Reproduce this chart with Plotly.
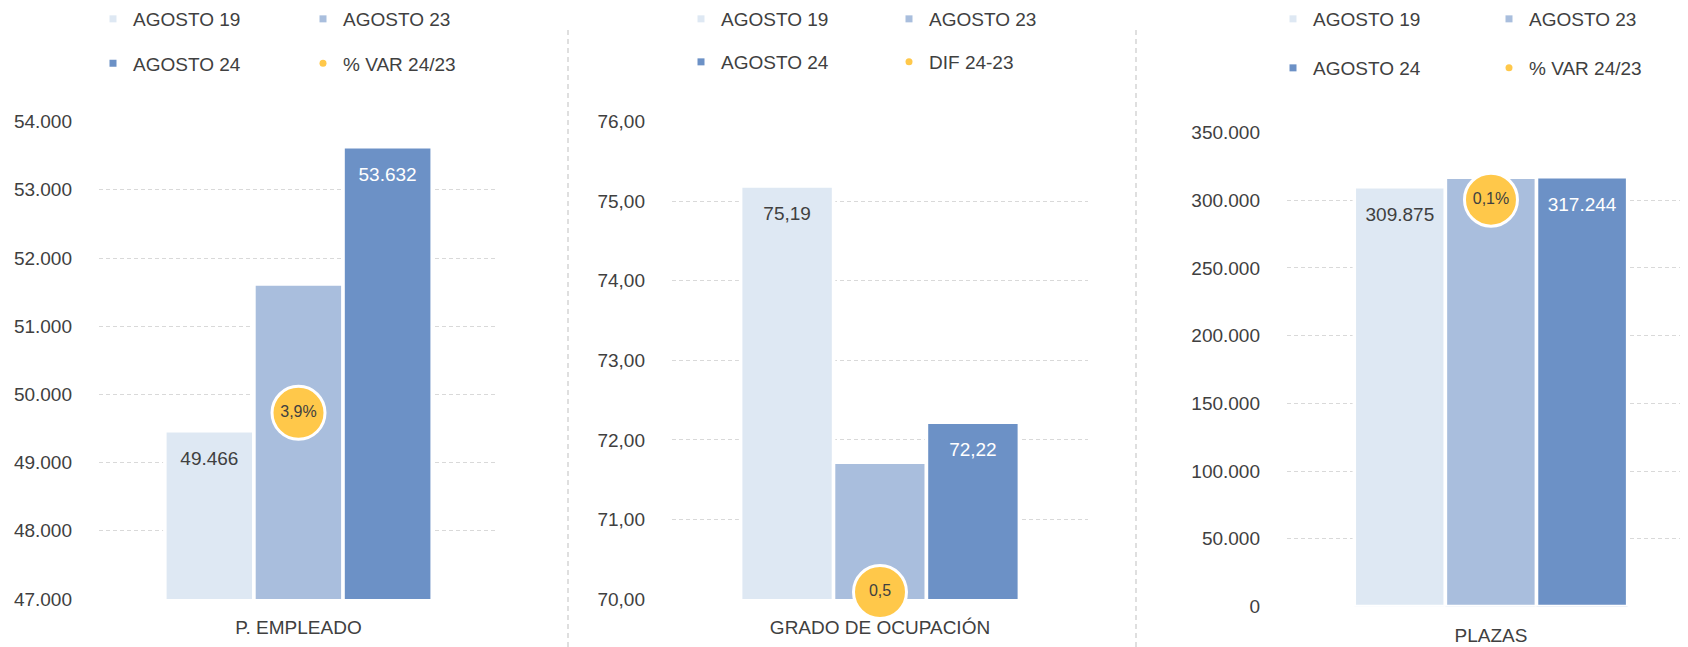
import plotly.graph_objects as go

# ---------------- data ----------------
series = ["AGOSTO 19", "AGOSTO 23", "AGOSTO 24"]
colors = ["#DEE8F3", "#A9BEDD", "#6C91C6"]

cat_empleado = ["P. EMPLEADO"]
empleado = [49466, 51620, 53632]
var_empleado = [3.9]

cat_ocupacion = ["GRADO DE OCUPACIÓN"]
ocupacion = [75.19, 71.72, 72.22]
dif_ocupacion = [0.5]

cat_plazas = ["PLAZAS"]
plazas = [309875, 316900, 317244]
var_plazas = [0.1]

circle_names = ["% VAR 24/23", "DIF 24-23", "% VAR 24/23"]

FONT = "Liberation Sans Narrow, Arial Narrow, Liberation Sans, sans-serif"
TXT = "#404040"
GOLD = "#FFC84A"
VW, VH = 1688, 647      # browser window
OFF = 8                 # default page body margin
W, H = VW - OFF, VH - OFF
FS = 19

fig = go.Figure()

panels = [
    dict(cat=cat_empleado, vals=empleado, circ=var_empleado, x="x", y="y", y2="y4",
         vfmt="%{y:,.0f}", cfmt="%{y:.1f}%", name=circle_names[0], lg=("legend", "legend2")),
    dict(cat=cat_ocupacion, vals=ocupacion, circ=dif_ocupacion, x="x2", y="y2", y2="y5",
         vfmt="%{y:.2f}", cfmt="%{y:.1f}", name=circle_names[1], lg=("legend3", "legend4")),
    dict(cat=cat_plazas, vals=plazas, circ=var_plazas, x="x3", y="y3", y2="y6",
         vfmt="%{y:,.0f}", cfmt="%{y:.1f}%", name=circle_names[2], lg=("legend5", "legend6")),
]

for p in panels:
    # bars
    for i, s in enumerate(series):
        fig.add_trace(go.Bar(
            x=p["cat"], y=[p["vals"][i]], name=s, marker_color=colors[i],
            marker_line=dict(color="white", width=3.5),
            xaxis=p["x"], yaxis=p["y"], showlegend=False, offsetgroup=str(i),
            alignmentgroup="a", hoverinfo="skip",
        ))
    # value labels (grouped scatter so they sit on the bars)
    for i, s in enumerate(series):
        show = i != 1
        fig.add_trace(go.Scatter(
            x=p["cat"], y=[p["vals"][i]], mode="markers+text" if show else "markers",
            marker=dict(size=30, opacity=0),
            texttemplate=p["vfmt"], textposition="bottom center",
            textfont=dict(family=FONT, size=FS, color="white" if i == 2 else TXT),
            xaxis=p["x"], yaxis=p["y"], showlegend=False, offsetgroup=str(i),
            alignmentgroup="b", cliponaxis=False, hoverinfo="skip",
        ))
    # circle on secondary axis
    fig.add_trace(go.Scatter(
        x=p["cat"], y=p["circ"], mode="markers+text", name=p["name"],
        marker=dict(size=53, color=GOLD, line=dict(color="white", width=3)),
        texttemplate=p["cfmt"], textposition="middle center",
        textfont=dict(family=FONT, size=16, color=TXT),
        xaxis=p["x"], yaxis=p["y2"], showlegend=False, cliponaxis=False, hoverinfo="skip",
    ))
    # legend entries
    for i, s in enumerate(series):
        fig.add_trace(go.Scatter(
            x=[None], y=[None], mode="markers", name=s,
            marker=dict(symbol="square", size=7, color=colors[i]),
            xaxis=p["x"], yaxis=p["y"], legend=p["lg"][0] if i < 2 else p["lg"][1],
        ))
    fig.add_trace(go.Scatter(
        x=[None], y=[None], mode="markers", name=p["name"],
        marker=dict(symbol="circle", size=7, color=GOLD),
        xaxis=p["x"], yaxis=p["y"], legend=p["lg"][1],
    ))

def px_x(v):
    return (v - OFF) / W

def px_y(v):
    return 1 - (v - OFF) / H

grid = dict(showgrid=True, gridcolor="#D9D9D9", griddash="4px,3px", gridwidth=1,
            zeroline=False, showline=False, ticks="", ticklabelstandoff=26,
            tickfont=dict(family=FONT, size=FS, color=TXT))
xcommon = dict(type="category", showgrid=False, zeroline=False, showline=False, ticks="",
               ticklabelstandoff=15, tickfont=dict(family=FONT, size=FS, color=TXT))

d12 = [px_y(599), px_y(121.6)]
d3 = [px_y(606.5), px_y(132.5)]

fig.update_layout(
    width=W, height=H, margin=dict(l=0, r=0, t=0, b=0, autoexpand=False),
    paper_bgcolor="white", plot_bgcolor="white",
    separators=",.", barmode="group", bargap=0.33, bargroupgap=0,
    scattermode="group", scattergap=0.33,
    font=dict(family=FONT, size=FS, color=TXT),
    xaxis=dict(domain=[px_x(99), px_x(498)], range=[-0.5, 0.5], anchor="y", **xcommon),
    xaxis2=dict(domain=[px_x(672), px_x(1088)], range=[-0.5, 0.5], anchor="y2", **xcommon),
    xaxis3=dict(domain=[px_x(1287), 1], range=[-0.5, 0.483], anchor="y3", **xcommon),
    yaxis=dict(domain=d12, range=[47000, 54000], dtick=1000, tickformat=",.0f", anchor="x", **grid),
    yaxis2=dict(domain=d12, range=[70, 76], dtick=1, tickformat=".2f", anchor="x2", **grid),
    yaxis3=dict(domain=d3, range=[0, 350000], dtick=50000, tickformat=",.0f", anchor="x3", **grid),
    yaxis4=dict(overlaying="y", anchor="x", range=[0, 10], visible=False),
    yaxis5=dict(overlaying="y2", anchor="x2", range=[0, 34], visible=False),
    yaxis6=dict(overlaying="y3", anchor="x3", range=[0, 0.1165], visible=False),
)

leg = dict(orientation="h", xanchor="left", yanchor="middle",
           bgcolor="rgba(0,0,0,0)", font=dict(family=FONT, size=FS, color=TXT),
           traceorder="normal", itemclick=False, itemdoubleclick=False)
# (text start x, row centre y, entry width) in window pixels
legend_pos = {
    "legend": (133, 19, 165), "legend2": (133, 63.5, 165),
    "legend3": (721, 19, 163), "legend4": (721, 62, 163),
    "legend5": (1313, 19, 171), "legend6": (1313, 68, 171),
}
for k, (tx, ty, ew) in legend_pos.items():
    fig.update_layout({k: dict(leg, x=px_x(tx - 40), y=px_y(ty), entrywidth=ew)})

# panel separators
for sx in (568, 1136):
    fig.add_shape(type="line", xref="paper", yref="paper", x0=px_x(sx), x1=px_x(sx),
                  y0=0, y1=px_y(27), line=dict(color="#BFBFBF", width=1, dash="5px,4px"))

fig.write_html("out.html")
